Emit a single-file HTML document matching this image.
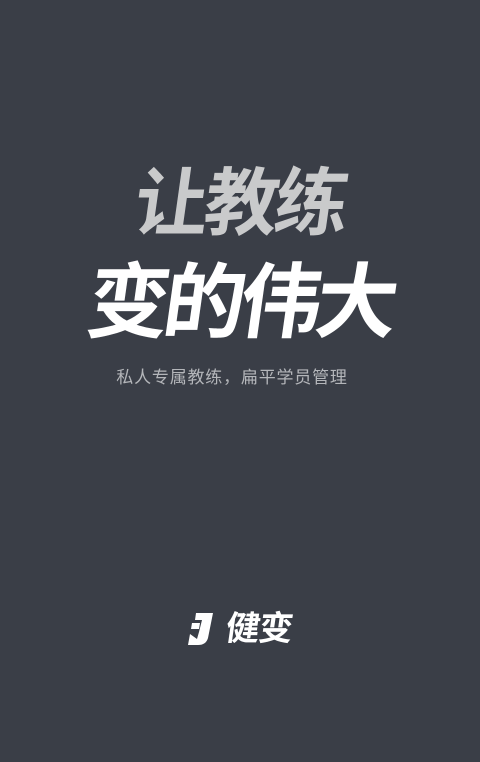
<!DOCTYPE html>
<html><head><meta charset="utf-8"><style>
html,body{margin:0;padding:0;}
body{width:480px;height:762px;background:#3a3e47;position:relative;overflow:hidden;font-family:"Liberation Sans","Noto Sans CJK SC",sans-serif;}
.t{position:absolute;left:0;width:480px;text-align:center;white-space:nowrap;}
#l1{top:161px;font-size:74px;font-weight:700;color:#c9cacb;letter-spacing:-4px;transform:skewX(-8deg);line-height:86px;}
#l2{top:254px;font-size:82px;font-weight:700;color:#ffffff;letter-spacing:-6px;transform:skewX(-8deg);line-height:100px;}
#sub{top:366px;left:-8px;font-size:17px;color:#b4b6ba;line-height:24px;letter-spacing:0.8px;}
#logo{position:absolute;left:186px;top:606px;height:46px;display:flex;align-items:center;}
#jmark{width:28px;height:36px;margin-right:12px;}
#brand{font-size:34px;font-weight:700;color:#fff;transform:skewX(-8deg);letter-spacing:-1px;line-height:46px;}
</style></head><body>
<div class="t" id="l1">让教练</div>
<div class="t" id="l2">变的伟大</div>
<div class="t" id="sub">私人专属教练，扁平学员管理</div>
<div id="logo">
<svg id="jmark" viewBox="0 0 28 36">
<path d="M10 2 L27 2 L22 27 Q20 34 12 34 L2 34 L4 23 L11 28 L13 21 L16 9 L9 9 Z" fill="#fff"/>
<path d="M6 12 L14 12 L13 18 L5 18 Z" fill="#fff"/>
</svg>
<div id="brand">健变</div>
</div>
</body></html>
